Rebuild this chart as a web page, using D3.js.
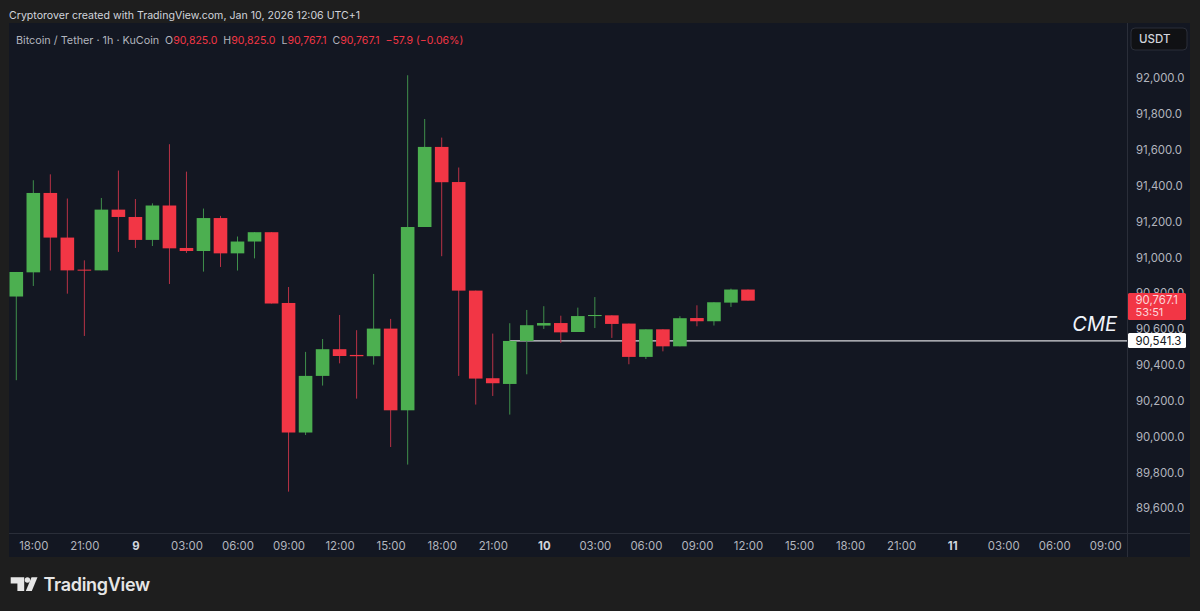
<!DOCTYPE html>
<html><head><meta charset="utf-8">
<style>html,body{margin:0;padding:0;background:#1e1e1e;overflow:hidden}svg{display:block}text{font-family:Inter,"Noto Sans",sans-serif}</style>
<script src="https://cdn.jsdelivr.net/npm/d3@7/dist/d3.min.js"></script>
</head><body><script>
const opens=[90782,90917,91360,91111,90932,90928,91267,91226,91098,91290,91053,91036,91220,91023,91089,91141,90746,90023,90339,90488,90456,90449,90603,90147,91170,91617,91421,90815,90326,90294,90534,90620,90634,90584,90673,90677,90631,90445,90599,90504,90662,90644,90748,90821];
const closes=[90919,91360,91111,90928,90928,91267,91226,91098,91290,91051,91036,91220,91023,91089,91141,90743,90023,90339,90488,90450,90449,90603,90147,91170,91617,91420,90815,90324,90298,90534,90622,90634,90582,90673,90679,90629,90445,90599,90504,90661,90644,90750,90821,90759];
const highs=[90919,91431,91464,91329,90984,91332,91485,91326,91302,91632,91479,91273,91232,91117,91141,91141,90835,90473,90545,90679,90594,90908,90657,92017,91773,91669,91502,90815,90575,90633,90707,90728,90675,90720,90779,90677,90631,90599,90599,90672,90733,90750,90826,90821];
const lows=[90315,90841,90927,90798,90562,90928,91031,91053,91064,90852,91025,90921,90947,90927,90995,90743,89693,90009,90285,90409,90212,90402,89942,89844,91170,91007,90339,90179,90227,90123,90348,90601,90523,90584,90606,90551,90404,90433,90476,90504,90616,90620,90724,90759];
const priceTicks=[92000,91800,91600,91400,91200,91000,90800,90600,90400,90200,90000,89800,89600];
const timeTickIdx=[1,4,7,10,13,16,19,22,25,28,31,34,37,40,43,46,49,52,55,58,61,64];
const timeTickLabels=["18:00","21:00","9","03:00","06:00","09:00","12:00","15:00","18:00","21:00","10","03:00","06:00","09:00","12:00","15:00","18:00","21:00","11","03:00","06:00","09:00"];
const boldLabels=["9","10","11"];
const cmeLevel=90534, cmeLabel="90,541.3", lastLabel="90,767.1", countdown="53:51";
const headerParts=[["Bitcoin / Tether · 1h · KuCoin","#b2b5be"],["  O","#b2b5be"],["90,825.0","#f23645"],["  H","#b2b5be"],["90,825.0","#f23645"],["  L","#b2b5be"],["90,767.1","#f23645"],["  C","#b2b5be"],["90,767.1","#f23645"],["  −57.9 (−0.06%)","#f23645"]];

const W=1200,H=611,UP="#4caf50",DOWN="#f23645",UPW="#3f8f4b",DOWNW="#b83246",PANEL="#131722",AXIS="#b2b5be",LINE="#2a2e39";
const L=9,R=1190,T=23,B=557,AX=1127,AY=533;
const svg=d3.select("body").append("svg").attr("width",W).attr("height",H);
svg.append("rect").attr("width",W).attr("height",H).attr("fill","#1e1e1e");
svg.append("rect").attr("x",L).attr("y",T).attr("width",R-L).attr("height",B-T).attr("fill",PANEL);

const x=d3.scaleLinear().domain([0,64]).range([16.3,1105.3]);
const y=d3.scaleLinear().domain([92000,89600]).range([78.3,508.3]);

svg.append("text").attr("x",9).attr("y",19).attr("font-size",10.6).attr("fill","#d1d4dc").text("Cryptorover created with TradingView.com, Jan 10, 2026 12:06 UTC+1");

svg.append("line").attr("x1",x(29)).attr("x2",AX).attr("y1",y(cmeLevel)).attr("y2",y(cmeLevel)).attr("stroke","#d8d9dd").attr("stroke-width",1.3);

const candles=d3.range(opens.length);
const g=svg.append("g").attr("class","candles");
g.selectAll("line.wick").data(candles).join("line").attr("class","wick")
 .attr("x1",i=>x(i)).attr("x2",i=>x(i)).attr("y1",i=>y(highs[i])).attr("y2",i=>y(lows[i]))
 .attr("stroke",i=>closes[i]>=opens[i]?UPW:DOWNW).attr("stroke-width",1);
g.selectAll("rect.body").data(candles).join("rect").attr("class","body")
 .attr("x",i=>x(i)-6.8).attr("width",13.6)
 .attr("y",i=>y(Math.max(opens[i],closes[i])))
 .attr("height",i=>Math.max(1,Math.abs(y(opens[i])-y(closes[i]))))
 .attr("fill",i=>closes[i]>=opens[i]?UP:DOWN);

const ya=svg.append("g").attr("transform",`translate(${AX},0)`).call(d3.axisRight(y).tickValues(priceTicks).tickSize(0).tickPadding(9).tickFormat(d3.format(",.1f")));
ya.select(".domain").remove();
ya.selectAll("text").attr("fill",AXIS).attr("font-size",11.4).attr("font-family","Inter,sans-serif");
const xa=svg.append("g").attr("transform",`translate(0,${AY})`).call(d3.axisBottom(x).tickValues(timeTickIdx).tickSize(0).tickPadding(9).tickFormat((d,i)=>timeTickLabels[i]));
xa.select(".domain").remove();
xa.selectAll("text").attr("fill",(d,i)=>boldLabels.includes(timeTickLabels[i])?"#d1d4dc":AXIS).attr("font-weight",(d,i)=>boldLabels.includes(timeTickLabels[i])?700:400).attr("font-size",11.4).attr("font-family","Inter,sans-serif");

svg.append("line").attr("x1",AX+.5).attr("x2",AX+.5).attr("y1",T).attr("y2",B).attr("stroke",LINE);
svg.append("line").attr("x1",L).attr("x2",R).attr("y1",AY+.5).attr("y2",AY+.5).attr("stroke",LINE);

const h=svg.append("text").attr("x",16).attr("y",44).attr("font-size",10.8).style("white-space","pre");
h.selectAll("tspan").data(headerParts).join("tspan").attr("fill",d=>d[1]).attr("font-size",(d,i)=>i===0?10.8:10.55).text(d=>d[0]);

svg.append("rect").attr("x",1131).attr("y",28).attr("width",56).attr("height",22).attr("rx",4).attr("fill","#101114").attr("stroke","#2a2e39");
svg.append("text").attr("x",1139).attr("y",43).attr("font-size",11.5).attr("font-weight",500).attr("fill","#d1d4dc").text("USDT");

svg.append("rect").attr("x",1128).attr("y",293).attr("width",58).attr("height",27).attr("rx",1.5).attr("fill",DOWN);
svg.append("text").attr("x",1135.5).attr("y",303.5).attr("font-size",11.4).attr("fill","#fbd7db").text(lastLabel);
svg.append("text").attr("x",1135.5).attr("y",316).attr("font-size",11).attr("fill","#fbd7db").text(countdown);
svg.append("rect").attr("x",1128).attr("y",333).attr("width",58).attr("height",15).attr("rx",1.5).attr("fill","#fff");
svg.append("text").attr("x",1135.5).attr("y",344.5).attr("font-size",11.4).attr("fill","#131722").text(cmeLabel);
svg.append("text").attr("x",1117).attr("y",331).attr("text-anchor","end").attr("font-size",20).attr("font-style","italic").attr("fill","#f0f3fa").text("CME");

const logo=svg.append("g").attr("fill","#e6e6e6");
logo.append("path").attr("d","M10.7 577.3H24.2V591H17.4V583.6H10.7Z");
logo.append("circle").attr("cx",27.4).attr("cy",580).attr("r",2.7);
logo.append("path").attr("d","M31.5 577.3H37.5L31.8 591H25.8Z");
svg.append("text").attr("x",43.5).attr("y",591).attr("font-size",18).attr("font-weight",600).attr("letter-spacing",-.3).attr("fill","#e6e6e6").text("TradingView");
</script></body></html>
